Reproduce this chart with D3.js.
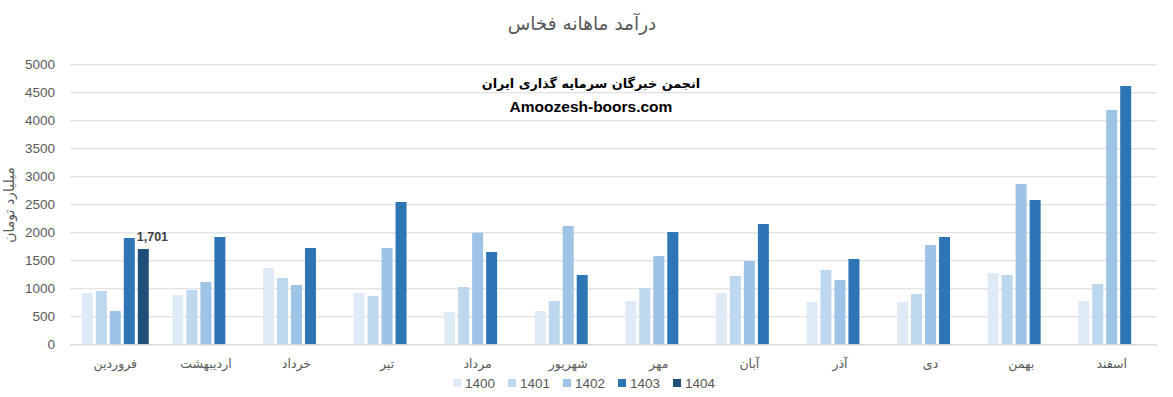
<!DOCTYPE html>
<html>
<head>
<meta charset="utf-8">
<script src="https://cdn.jsdelivr.net/npm/d3@7"></script>
<style>
body { margin: 0; background: #fff; }
text { font-family: "Liberation Sans", Arial, sans-serif; }
.fa { font-family: "DejaVu Sans", "Noto Sans", sans-serif; }
</style>
</head>
<body>
<div id="chart"></div>
<script>
// months (left to right) and yearly series, billion toman
var months = ["فروردین", "اردیبهشت", "خرداد", "تیر", "مرداد", "شهریور", "مهر", "آبان", "آذر", "دی", "بهمن", "اسفند"];
var years = ["1400", "1401", "1402", "1403", "1404"];
var v1400 = [916, 880, 1362, 916, 577, 595, 773, 916, 755, 755, 1273, 773];
var v1401 = [952, 970, 1184, 862, 1023, 773, 1005, 1220, 1327, 898, 1238, 1077];
var v1402 = [595, 1113, 1059, 1720, 1993, 2113, 1577, 1488, 1148, 1773, 2862, 4184];
var v1403 = [1898, 1916, 1720, 2541, 1648, 1238, 2005, 2148, 1523, 1916, 2577, 4613];
var v1404 = [1701, null, null, null, null, null, null, null, null, null, null, null];
var yTicks = [0, 500, 1000, 1500, 2000, 2500, 3000, 3500, 4000, 4500, 5000];
var colors = ["#deebf7", "#bdd7ee", "#9dc3e6", "#2e75b6", "#1f4e79"];

var series = [v1400, v1401, v1402, v1403, v1404];
var rows = [];
months.forEach(function(m, i) {
    years.forEach(function(yr, j) {
        if (series[j][i] != null) rows.push({ month: m, year: yr, value: series[j][i] });
    });
});

var W = 1173, H = 397;
var svg = d3.select("#chart").append("svg")
    .attr("width", W)
    .attr("height", H);

var x0 = d3.scaleBand().domain(months).range([70, 1157]).padding(0);
var x1 = d3.scaleBand().domain(years)
    .range([11.8, x0.bandwidth() - 11.8])
    .paddingInner(0.215).paddingOuter(0);
var y = d3.scaleLinear().domain([0, 5000]).range([344.3, 64.3]);
var color = d3.scaleOrdinal().domain(years).range(colors);

// gridlines + tick labels
svg.append("g")
    .attr("transform", "translate(70,0)")
    .call(d3.axisLeft(y).tickValues(yTicks).tickSize(-1087).tickPadding(15).tickFormat(d3.format("d")))
    .call(function(g) {
        g.select(".domain").remove();
        g.selectAll(".tick line").attr("stroke", "#d9d9d9").attr("stroke-width", 1);
        g.selectAll(".tick text").attr("fill", "#595959").style("font-size", "13.5px")
            .style("font-family", "'Liberation Sans', Arial, sans-serif");
    });

// bars
svg.selectAll(".bar")
    .data(rows)
    .enter()
    .append("rect")
    .attr("class", "bar")
    .attr("x", function(d) { return x0(d.month) + x1(d.year); })
    .attr("width", x1.bandwidth())
    .attr("y", function(d) { return y(d.value); })
    .attr("height", function(d) { return y(0) - y(d.value); })
    .attr("fill", function(d) { return color(d.year); });

// x axis line and month labels
svg.append("g")
    .attr("transform", "translate(0," + y(0) + ")")
    .call(d3.axisBottom(x0).tickSize(0).tickPadding(15))
    .call(function(g) {
        g.select(".domain").attr("stroke", "#d9d9d9");
        g.selectAll(".tick text").attr("class", "fa").attr("fill", "#595959").style("font-size", "12.5px");
    });

// data label on the 1404 bar
var last = rows.filter(function(d) { return d.year === "1404"; });
svg.selectAll(".lbl")
    .data(last)
    .enter()
    .append("text")
    .attr("x", function(d) { return x0(d.month) + x1(d.year) - 1; })
    .attr("y", function(d) { return y(d.value) - 8; })
    .attr("fill", "#404040")
    .style("font-size", "12.5px")
    .style("font-weight", "bold")
    .text(function(d) { return d3.format(",")(d.value); });

// title
svg.append("text")
    .attr("class", "fa")
    .attr("x", 582).attr("y", 30)
    .attr("text-anchor", "middle")
    .attr("fill", "#595959")
    .style("font-size", "18.5px")
    .text("درآمد ماهانه فخاس");

// watermark
svg.append("text")
    .attr("class", "fa")
    .attr("x", 591).attr("y", 88)
    .attr("text-anchor", "middle")
    .attr("fill", "#000")
    .style("font-size", "12.8px")
    .style("font-weight", "bold")
    .text("انجمن خبرگان سرمایه گذاری ایران");
svg.append("text")
    .attr("x", 591).attr("y", 112)
    .attr("text-anchor", "middle")
    .attr("fill", "#000")
    .style("font-size", "15.5px")
    .style("font-weight", "bold")
    .text("Amoozesh-boors.com");

// y axis title
svg.append("text")
    .attr("class", "fa")
    .attr("transform", "translate(14,205) rotate(-90)")
    .attr("text-anchor", "middle")
    .attr("fill", "#595959")
    .style("font-size", "14px")
    .text("میلیارد تومان");

// legend
var lx = d3.scaleBand().domain(years).range([453, 728]);
var leg = svg.selectAll(".leg")
    .data(years)
    .enter()
    .append("g")
    .attr("transform", function(d) { return "translate(" + lx(d) + ",383)"; });
leg.append("rect")
    .attr("y", -4).attr("width", 8).attr("height", 8)
    .attr("fill", function(d) { return color(d); });
leg.append("text")
    .attr("x", 12).attr("y", 5)
    .attr("fill", "#595959")
    .style("font-size", "13.5px")
    .text(function(d) { return d; });
</script>
</body>
</html>
